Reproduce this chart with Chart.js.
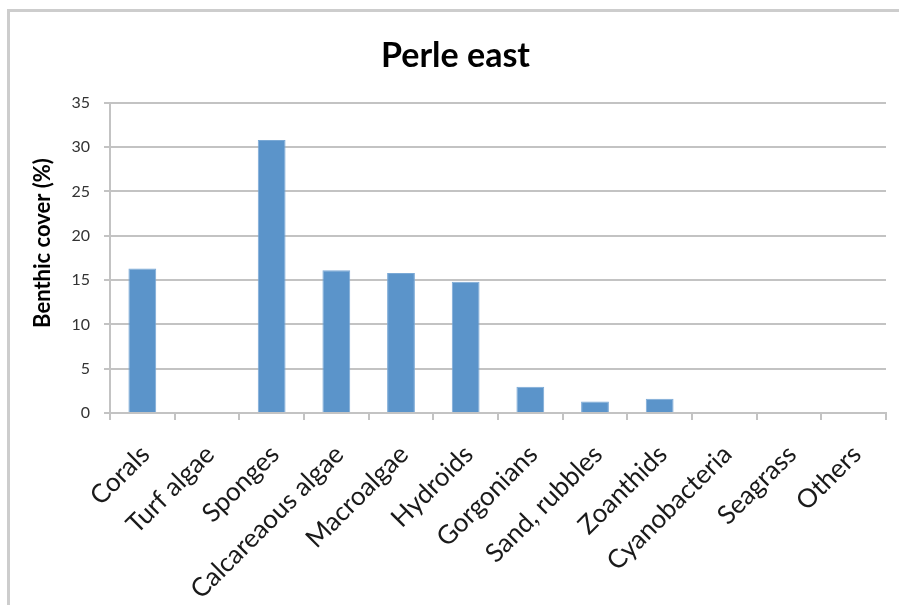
<!DOCTYPE html>
<html>
<head>
<meta charset="utf-8">
<script src="https://cdn.jsdelivr.net/npm/chart.js@4/dist/chart.umd.min.js"></script>
<style>
  html, body { margin: 0; padding: 0; background: #fff; }
  #wrap { width: 899px; height: 605px; position: relative; }
</style>
</head>
<body>
<div id="wrap"><canvas id="myChart" width="899" height="605"></canvas></div>
<script>
var categories = ['Corals', 'Turf algae', 'Sponges', 'Calcareaous algae', 'Macroalgae', 'Hydroids',
                  'Gorgonians', 'Sand, rubbles', 'Zoanthids', 'Cyanobacteria', 'Seagrass', 'Others'];
var cover = [16.3, 0, 30.8, 16.1, 15.8, 14.8, 2.95, 1.3, 1.6, 0, 0, 0];
var yTicks = [0, 5, 10, 15, 20, 25, 30, 35];
var yTitle = 'Benthic cover (%)';

var FONT = 'Lato, "Open Sans", sans-serif';
var GRID = '#c3c3c3';

// light frame along the top and left edge, plus the rotated y axis caption
var framePlugin = {
    id: 'frame',
    beforeDraw: function(chart) {
        var ctx = chart.ctx;
        ctx.save();
        ctx.strokeStyle = '#cdcdcd';
        ctx.lineWidth = 3;
        ctx.beginPath();
        ctx.moveTo(8.5, 605);
        ctx.lineTo(8.5, 10.5);
        ctx.lineTo(899, 10.5);
        ctx.stroke();
        ctx.restore();
    },
    afterDraw: function(chart) {
        var ctx = chart.ctx;
        ctx.save();
        ctx.translate(43, 243);
        ctx.rotate(-Math.PI / 2);
        ctx.fillStyle = '#000';
        ctx.font = 'bold 22px ' + FONT;
        ctx.textAlign = 'center';
        ctx.textBaseline = 'middle';
        ctx.fillText(yTitle, 0, 0);
        ctx.restore();
    }
};

var ctx = document.getElementById('myChart').getContext('2d');
var myChart = new Chart(ctx, {
    type: 'bar',
    data: {
        labels: categories,
        datasets: [{
            label: 'Benthic cover',
            data: cover,
            backgroundColor: '#5b94ca',
            borderColor: '#7aa9d6',
            borderWidth: 1,
            categoryPercentage: 1,
            barPercentage: 0.43
        }]
    },
    options: {
        responsive: false,
        animation: false,
        layout: { padding: { left: 25, right: 13, top: 0, bottom: 0 } },
        plugins: {
            legend: { display: false },
            tooltip: { enabled: false },
            title: {
                display: true,
                text: 'Perle east',
                color: '#000',
                font: { family: FONT, size: 34, weight: 'bold', lineHeight: 1.2 },
                padding: { top: 36, bottom: 26 }
            }
        },
        scales: {
            x: {
                offset: true,
                grid: { offset: true, drawOnChartArea: false, drawTicks: true, tickLength: 7, color: GRID, lineWidth: 2 },
                border: { display: true, color: GRID, width: 2 },
                ticks: {
                    color: '#1a1a1a',
                    font: { family: FONT, size: 26 },
                    minRotation: 45,
                    maxRotation: 45,
                    autoSkip: false,
                    labelOffset: 3,
                    padding: 19
                },
                afterFit: function(scale) { scale.height = 605 - 413; }
            },
            y: {
                min: 0,
                max: 35,
                afterBuildTicks: function(scale) {
                    scale.ticks = yTicks.map(function(v) { return { value: v }; });
                },
                grid: { color: GRID, lineWidth: 2, drawTicks: true, tickLength: 6 },
                border: { display: true, color: GRID, width: 2 },
                ticks: {
                    color: '#333',
                    font: { family: FONT, size: 16 },
                    padding: 14
                },
                afterFit: function(scale) { scale.width = 110 - 25; }
            }
        }
    },
    plugins: [framePlugin]
});
</script>
</body>
</html>
